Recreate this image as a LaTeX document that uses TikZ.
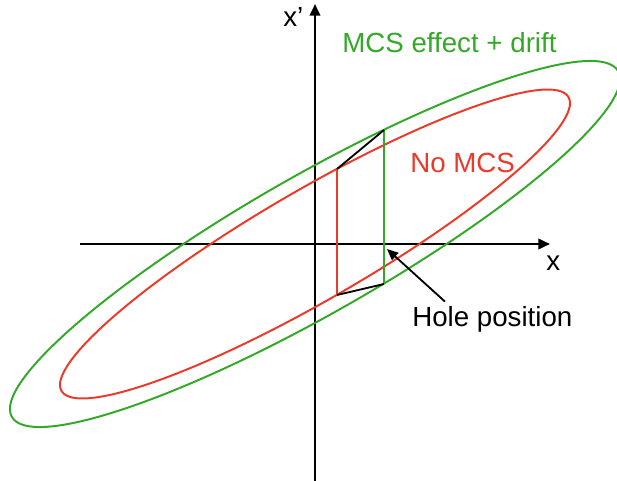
\documentclass[tikz,border=0pt]{standalone}
\usepackage{fontspec}
\setmainfont{Liberation Sans}
\usetikzlibrary{arrows.meta}
\definecolor{nomcsred}{RGB}{234,58,42}
\definecolor{mcsgreen}{RGB}{52,168,40}

\begin{document}
\begin{tikzpicture}[
  x=0.025cm, y=0.025cm,
  font=\fontsize{19.7}{23}\selectfont,
  axis/.style={-{Triangle[length=2.9mm, width=2.6mm]}, black, line width=1.6pt},
  orbit/.style={line width=1.4pt},
  slit/.style={line width=1.3pt},
  label/.style={anchor=base west, inner sep=0pt},
  pointer/.style={-{Triangle[length=2.8mm, width=2.4mm]}, black, line width=1.3pt},
]
\useasboundingbox (-315,-236) rectangle (302,244);

% Axes
\coordinate (o) at (0,0);
\coordinate (xl) at (-235,0);
\coordinate (xr) at (235,0);
\coordinate (yb) at (0,-240);
\coordinate (yt) at (0,240);
\draw[axis] (xl) -- (xr);
\draw[axis] (yb) -- (yt);
\node[label] (xlabel) at (231,-26) {x};
\node[label] (xplabel) at (-32,217) {x’};

% Phase space ellipses
\draw[orbit, nomcsred, rotate=30.1] (o) ellipse (293 and 55);
\draw[orbit, mcsgreen, rotate=29.7] (o) ellipse (349 and 69);

% Hole edges
\coordinate (rt) at (22,75);
\coordinate (rb) at (22,-51);
\coordinate (gt) at (69,114);
\coordinate (gb) at (69,-40);
\draw[slit, nomcsred] (rt) -- (rb);
\draw[slit, mcsgreen] (gt) -- (gb);
\draw[slit, black] (rt) -- (gt);
\draw[slit, black] (rb) -- (gb);

% Labels
\node[label, text=mcsgreen] (mcslabel) at (27,191) {MCS effect + drift};
\node[label, text=nomcsred] (nomcslabel) at (95,71) {No MCS};
\node[label] (hole) at (97,-82) {Hole position};
\coordinate (holept) at (72,-5);
\draw[pointer] ([shift={(33,4)}]hole.north west) -- (holept);

\end{tikzpicture}
\end{document}
